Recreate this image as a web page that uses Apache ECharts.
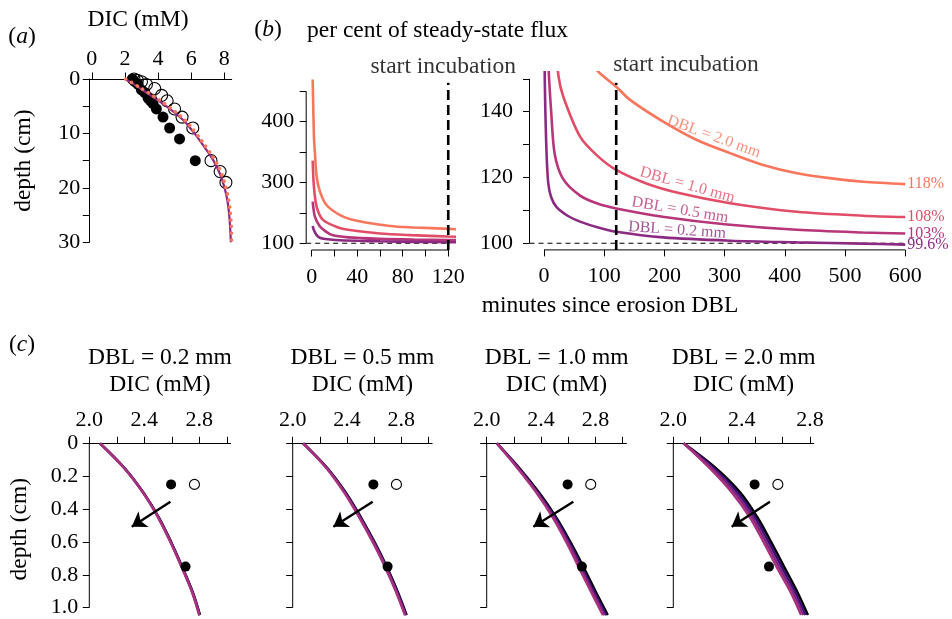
<!DOCTYPE html>
<html>
<head>
<meta charset="utf-8">
<script src="https://cdn.jsdelivr.net/npm/echarts@6/dist/echarts.min.js"></script>
<style>
  html, body { margin: 0; padding: 0; background: #fff; }
  #chart { width: 952px; height: 619px; }
</style>
</head>
<body>
<div id="chart"></div>
<script>
const FONT = 'Liberation Serif';

// ---------- (a) DIC depth profiles ----------
const aFilledDepth = [0, 0.5, 1, 2, 2.5, 3.5, 4, 4.5, 5.5, 7, 9, 11, 15];
const aFilledDIC   = [2.45, 2.6, 2.8, 3.0, 3.2, 3.4, 3.55, 3.7, 3.9, 4.3, 4.7, 5.3, 6.25];
const aOpenDepth   = [0, 0.25, 0.5, 1, 1.75, 3, 4, 5.5, 7, 9, 15, 17, 19];
const aOpenDIC     = [2.55, 2.75, 3.0, 3.3, 3.8, 4.22, 4.55, 5.0, 5.45, 6.1, 7.2, 7.75, 8.1];
const aModelDepth  = [0, 1, 2.5, 5, 7.5, 10, 12.5, 15, 17.5, 20, 22.5, 25, 27.5, 30];
const aModelSolid  = [2.0, 2.55, 3.3, 4.5, 5.5, 6.2, 6.8, 7.35, 7.75, 8.02, 8.2, 8.3, 8.36, 8.4];
const aModelDotted = [2.05, 2.6, 3.4, 4.6, 5.6, 6.3, 6.9, 7.45, 7.85, 8.1, 8.28, 8.38, 8.43, 8.45];
const aXTicks = [0, 2, 4, 6, 8];
const aYTicks = [0, 5, 10, 15, 20, 25, 30];
const aYLabels = [0, 10, 20, 30];

// ---------- (b) flux after DBL erosion, per cent of steady state ----------
const dblNames = ['DBL = 2.0 mm', 'DBL = 1.0 mm', 'DBL = 0.5 mm', 'DBL = 0.2 mm'];
const fluxT20 = [0.9, 2, 2.9, 4.4, 7.3, 13, 25, 40, 69, 90, 120, 143, 198, 254, 309, 364, 420, 475, 530, 600];
const flux20  = [639, 451, 396, 319, 270, 226, 193, 174, 157, 152.2, 147.6, 143.6, 137, 131.4, 127.4, 123.8, 121.3, 119.8, 118.7, 118];
const fluxT10 = [0.9, 2, 4.4, 10, 24, 32, 60, 87.5, 120, 170, 226, 309, 420, 530, 600];
const flux10  = [372, 286, 220, 177, 151, 144.6, 132.4, 126.8, 122.3, 118.2, 115.2, 112.2, 109.6, 108.4, 108];
const fluxT05 = [0.9, 2.9, 7.3, 12, 18, 32, 60, 90, 120, 200, 300, 420, 530, 600];
const flux05  = [237, 187, 155, 140, 127, 119.5, 114.5, 112, 110.6, 108, 105.8, 104.1, 103.3, 103];
const fluxT02 = [0.9, 2, 4.4, 7.2, 12, 21, 40, 60, 90, 120, 198, 309, 420, 530, 600];
const flux02  = [157, 143, 127, 118.2, 114, 111, 108.3, 106.6, 104.8, 103.5, 101.8, 100.8, 100.3, 99.9, 99.6];
const incubationStart = 120;
const steadyState = 100;

const bLeftXTicks = [0, 20, 40, 60, 80, 100, 120];
const bLeftXLabels = [0, 40, 80, 120];
const bLeftYTicks = [100, 200, 300, 400, 500, 600];
const bLeftYLabelAt = [100, 300, 500];
const bLeftYLabelText = ['100', '300', '400'];
const bRightXTicks = [0, 100, 200, 300, 400, 500, 600];
const bRightYTicks = [100, 110, 120, 130, 140, 150];
const bRightYLabels = [100, 120, 140];

// ---------- (c) near-surface DIC profiles ----------
const cTitles = ['DBL = 0.2 mm', 'DBL = 0.5 mm', 'DBL = 1.0 mm', 'DBL = 2.0 mm'];
const cDepth = [0, 0.15, 0.3, 0.45, 0.6, 0.75, 0.9, 1.045];
const cProfiles02 = [
  [2.078, 2.256, 2.394, 2.505, 2.595, 2.675, 2.750, 2.805],
  [2.078, 2.255, 2.393, 2.504, 2.594, 2.674, 2.749, 2.804],
  [2.078, 2.254, 2.392, 2.502, 2.592, 2.672, 2.747, 2.802],
  [2.078, 2.253, 2.390, 2.500, 2.590, 2.670, 2.745, 2.800]
];
const cProfiles05 = [
  [2.078, 2.255, 2.392, 2.503, 2.603, 2.693, 2.773, 2.840],
  [2.078, 2.253, 2.388, 2.499, 2.599, 2.689, 2.769, 2.836],
  [2.078, 2.250, 2.384, 2.494, 2.594, 2.684, 2.764, 2.832],
  [2.078, 2.248, 2.380, 2.490, 2.590, 2.680, 2.760, 2.828]
];
const cProfiles10 = [
  [2.075, 2.240, 2.385, 2.510, 2.615, 2.710, 2.800, 2.890],
  [2.075, 2.235, 2.378, 2.502, 2.605, 2.698, 2.788, 2.878],
  [2.075, 2.230, 2.371, 2.493, 2.595, 2.687, 2.777, 2.866],
  [2.075, 2.225, 2.365, 2.485, 2.585, 2.675, 2.765, 2.855]
];
const cProfiles20 = [
  [2.075, 2.310, 2.490, 2.615, 2.715, 2.810, 2.905, 2.985],
  [2.075, 2.295, 2.470, 2.597, 2.697, 2.792, 2.888, 2.968],
  [2.075, 2.280, 2.450, 2.578, 2.678, 2.773, 2.872, 2.952],
  [2.075, 2.265, 2.430, 2.560, 2.660, 2.755, 2.855, 2.935]
];
const cFilledDIC = [2.595, 2.70];
const cFilledDepth = [0.25, 0.75];
const cOpenDIC = [2.765];
const cOpenDepth = [0.25];
const cArrowFrom = [[2.590, 0.355], [2.590, 0.355], [2.637, 0.355], [2.707, 0.355]];
const cArrowTo   = [[2.309, 0.507], [2.300, 0.507], [2.343, 0.507], [2.427, 0.507]];
const cXTicks = [2.0, 2.2, 2.4, 2.6, 2.8, 3.0];
const cXLabelAt = [[2.0, 2.4, 2.8], [2.0, 2.4, 2.8], [2.0, 2.4, 2.8], [2.0, 2.5, 3.0]];
const cXLabelText = ['2.0', '2.4', '2.8'];
const cYTicks = [0, 0.2, 0.4, 0.6, 0.8, 1.0];

// ---------- styling ----------
const fluxColors = ['#f8765c', '#e14d66', '#b7367a', '#8c2a82'];
const profileColors = ['#000004', '#3b0f70', '#7e2482', '#a8327d'];
const aSolidColor = '#8c2981';
const aDottedColor = '#f8765c';

const pairs = (xs, ys) => xs.map((x, i) => [x, ys[i]]);

// axis ranges of each panel
const aX = [-0.15, 8.45], aY = [0, 30];
const bLX = [-4.8, 124.8], bLY = [78, 650];
const bRX = [-24, 624], bRY = [98, 152];
const cX = [2.0, 3.028], cY = [0, 1.045];

const grids = [
  { left: 89.3, top: 79, width: 142.4, height: 163.3 },
  { left: 306.2, top: 76.1, width: 147.5, height: 173.9 },
  { left: 529.5, top: 72.2, width: 390.2, height: 177.7 },
  { left: 89.3, top: 443.3, width: 141.3, height: 171.8 },
  { left: 292.7, top: 443.3, width: 139.4, height: 171.8 },
  { left: 486.7, top: 443.3, width: 139.8, height: 171.8 },
  { left: 673.3, top: 443.3, width: 140.5, height: 171.8 }
].map(g => Object.assign({ containLabel: false, outerBoundsMode: 'none' }, g));

function axis(o) {
  return {
    type: 'value',
    gridIndex: o.grid,
    position: o.position,
    inverse: !!o.inverse,
    min: o.range[0], max: o.range[1],
    splitLine: { show: false },
    axisLine: { show: !!o.line, onZero: false, lineStyle: { color: '#000', width: 1 } },
    axisTick: { show: true, inside: false, length: 6.5, customValues: o.ticks,
                lineStyle: { color: '#000', width: 1 } },
    axisLabel: { show: !!o.labels, customValues: o.labels || [], formatter: o.fmt,
                 margin: o.margin, color: '#000', fontFamily: FONT, fontSize: 22 },
    name: o.name || '', nameLocation: 'middle', nameGap: o.nameGap || 0, nameRotate: o.nameRotate,
    nameTextStyle: { color: '#000', fontFamily: FONT, fontSize: 23.5, lineHeight: 27 }
  };
}

const xAxes = [
  axis({ grid: 0, position: 'top', range: aX, line: true, ticks: aXTicks, labels: aXTicks, margin: 9,
         fmt: v => String(v) }),
  axis({ grid: 1, position: 'bottom', range: bLX, ticks: bLeftXTicks, labels: bLeftXLabels, margin: 16,
         fmt: v => String(v) }),
  axis({ grid: 2, position: 'bottom', range: bRX, ticks: bRightXTicks, labels: bRightXTicks, margin: 15,
         fmt: v => String(v) })
];
const yAxes = [
  axis({ grid: 0, position: 'left', range: aY, inverse: true, line: true, ticks: aYTicks, labels: aYLabels,
         margin: 9, fmt: v => String(v), name: 'depth (cm)', nameGap: 52, nameRotate: 90 }),
  axis({ grid: 1, position: 'left', range: bLY, ticks: bLeftYTicks, labels: bLeftYLabelAt, margin: 12,
         fmt: v => bLeftYLabelText[bLeftYLabelAt.indexOf(v)] }),
  axis({ grid: 2, position: 'left', range: bRY, ticks: bRightYTicks, labels: bRightYLabels, margin: 16.5,
         fmt: v => String(v) })
];
for (let k = 0; k < 4; k++) {
  xAxes.push(axis({ grid: 3 + k, position: 'top', range: cX, line: true, ticks: cXTicks,
    labels: cXLabelAt[k], margin: 12, fmt: v => cXLabelText[cXLabelAt[k].indexOf(v)],
    name: cTitles[k] + '\nDIC (mM)', nameGap: 45 }));
  yAxes.push(axis({ grid: 3 + k, position: 'left', range: cY, inverse: true, ticks: cYTicks,
    labels: k === 0 ? cYTicks : null, margin: 11, fmt: v => (v === 0 ? '0' : v.toFixed(1)),
    name: k === 0 ? 'depth (cm)' : '', nameGap: 56, nameRotate: 90 }));
}

const series = [];
const plain = (idx, data, color, width, extra) => Object.assign({
  type: 'line', xAxisIndex: idx, yAxisIndex: idx, data, symbol: 'none', silent: true,
  lineStyle: { color, width }
}, extra || {});
const axisRule = (idx, data) => plain(idx, data, '#000', 1, { clip: false, z: 1 });
const textMarks = (idx, items) => ({
  type: 'scatter', xAxisIndex: idx, yAxisIndex: idx, clip: false, silent: true, z: 6,
  symbol: 'circle', symbolSize: 1, itemStyle: { color: 'rgba(0,0,0,0)' },
  label: { show: true, position: 'inside', fontFamily: FONT },
  data: items
});

// (a)
series.push({
  type: 'scatter', xAxisIndex: 0, yAxisIndex: 0, symbolSize: 11, silent: true, z: 2,
  itemStyle: { color: '#000', opacity: 1 }, data: pairs(aFilledDIC, aFilledDepth)
});
series.push({
  type: 'scatter', xAxisIndex: 0, yAxisIndex: 0, symbolSize: 12, silent: true, z: 2,
  itemStyle: { color: 'rgba(0,0,0,0)', borderColor: '#000', borderWidth: 1.1, opacity: 1 },
  data: pairs(aOpenDIC, aOpenDepth)
});
series.push(plain(0, pairs(aModelSolid, aModelDepth), aSolidColor, 2.2, { smooth: 0.4, z: 3 }));
series.push(plain(0, pairs(aModelDotted, aModelDepth), aDottedColor, 3.6,
  { smooth: 0.4, z: 4, lineStyle: { color: aDottedColor, width: 3.6, type: [0.1, 6.5], cap: 'round' } }));

// (b)
const fluxSets = [pairs(fluxT20, flux20), pairs(fluxT10, flux10), pairs(fluxT05, flux05), pairs(fluxT02, flux02)];
[1, 2].forEach(idx => {
  const xr = idx === 1 ? bLX : bRX, yr = idx === 1 ? bLY : bRY;
  const xTicks = idx === 1 ? bLeftXTicks : bRightXTicks;
  const yTicks = idx === 1 ? bLeftYTicks : bRightYTicks;
  series.push(axisRule(idx, [[xTicks[0], yr[0]], [xTicks[xTicks.length - 1], yr[0]]]));
  series.push(axisRule(idx, [[xr[0], yTicks[0]], [xr[0], yTicks[yTicks.length - 1]]]));
  series.push(plain(idx, [[xr[0], steadyState], [idx === 1 ? incubationStart : 600, steadyState]], '#000', 1.1,
    { z: 2, lineStyle: { color: '#000', width: 1.1, type: [5, 4] } }));
  fluxSets.forEach((d, i) => {
    const s = plain(idx, d, fluxColors[i], 2.6, { smooth: 0.3, z: 3 });
    if (idx === 2) {
      s.endLabel = { show: true, formatter: p => p.value[1] + '%', color: fluxColors[i],
                     fontFamily: FONT, fontSize: 16, distance: 2 };
    }
    series.push(s);
  });
});
series.push(plain(1, [[incubationStart, bLY[0]], [incubationStart, 628]], '#000', 2.6,
  { z: 5, clip: false, lineStyle: { color: '#000', width: 2.6, type: [10, 5] } }));
series.push(plain(2, [[incubationStart, bRY[0]], [incubationStart, 148.8]], '#000', 2.6,
  { z: 5, clip: false, lineStyle: { color: '#000', width: 2.6, type: [10, 5] } }));
series.push(textMarks(1, [
  { value: [115.6, 681], label: { formatter: 'start incubation', fontSize: 23.5, color: '#000' } }
]));
series.push(textMarks(2, [
  { value: [235.8, 154.2], label: { formatter: 'start incubation', fontSize: 23.5, color: '#000' } },
  { value: [282, 132.4], label: { formatter: dblNames[0], fontSize: 16, rotate: -20, color: fluxColors[0] } },
  { value: [238, 117.7], label: { formatter: dblNames[1], fontSize: 16, rotate: -15.7, color: fluxColors[1] } },
  { value: [226, 110.1], label: { formatter: dblNames[2], fontSize: 16, rotate: -9.6, color: fluxColors[2] } },
  { value: [221, 104.0], label: { formatter: dblNames[3], fontSize: 16, rotate: -4, color: fluxColors[3] } }
]));

// (c)
const cProfiles = [cProfiles02, cProfiles05, cProfiles10, cProfiles20];
cProfiles.forEach((profiles, k) => {
  const idx = 3 + k;
  series.push(axisRule(idx, [[cX[0], cYTicks[0]], [cX[0], cYTicks[cYTicks.length - 1]]]));
  profiles.forEach((p, j) => {
    series.push(plain(idx, pairs(p, cDepth), profileColors[j], 2.5, { smooth: 0.35, clip: false, z: 3 }));
  });
  series.push({
    type: 'scatter', xAxisIndex: idx, yAxisIndex: idx, symbolSize: 10, silent: true, z: 4,
    itemStyle: { color: '#000', opacity: 1 }, data: pairs(cFilledDIC, cFilledDepth),
    markLine: {
      silent: true, animation: false, symbol: ['none', 'arrow'], symbolSize: 14,
      label: { show: false }, emphasis: { disabled: true },
      lineStyle: { color: '#000', width: 2.4, type: 'solid', opacity: 1 },
      itemStyle: { color: '#000' },
      data: [[{ coord: cArrowFrom[k] }, { coord: cArrowTo[k] }]]
    }
  });
  series.push({
    type: 'scatter', xAxisIndex: idx, yAxisIndex: idx, symbolSize: 10, silent: true, z: 4,
    itemStyle: { color: '#fff', borderColor: '#000', borderWidth: 1.1, opacity: 1 },
    data: pairs(cOpenDIC, cOpenDepth)
  });
});

// panel letters and shared titles
const letter = (ch, x, y) => ({
  type: 'text', x, y, silent: true,
  style: {
    text: '{p|(}{i|' + ch + '}{p|)}', textAlign: 'center', textVerticalAlign: 'middle', verticalAlign: 'middle',
    rich: {
      p: { fontFamily: FONT, fontSize: 23.5, fill: '#000', color: '#000' },
      i: { fontFamily: FONT, fontSize: 23.5, fontStyle: 'italic', fill: '#000', color: '#000' }
    }
  }
});
const caption = (text, x, y, align) => ({
  type: 'text', x, y, silent: true,
  style: { text, font: '23.5px "' + FONT + '"', fill: '#000', textAlign: align || 'center',
           textVerticalAlign: 'middle', verticalAlign: 'middle' }
});

const option = {
  animation: false,
  backgroundColor: '#fff',
  textStyle: { fontFamily: FONT, color: '#000' },
  grid: grids,
  xAxis: xAxes,
  yAxis: yAxes,
  series,
  graphic: [
    letter('a', 22, 37),
    caption('DIC (mM)', 138, 20),
    letter('b', 268, 30),
    caption('per cent of steady-state flux', 307, 31, 'left'),
    caption('minutes since erosion DBL', 610, 306),
    letter('c', 22, 345)
  ]
};

const chart = echarts.init(document.getElementById('chart'), null, { renderer: 'canvas', width: 952, height: 619 });
chart.setOption(option);
</script>
</body>
</html>
